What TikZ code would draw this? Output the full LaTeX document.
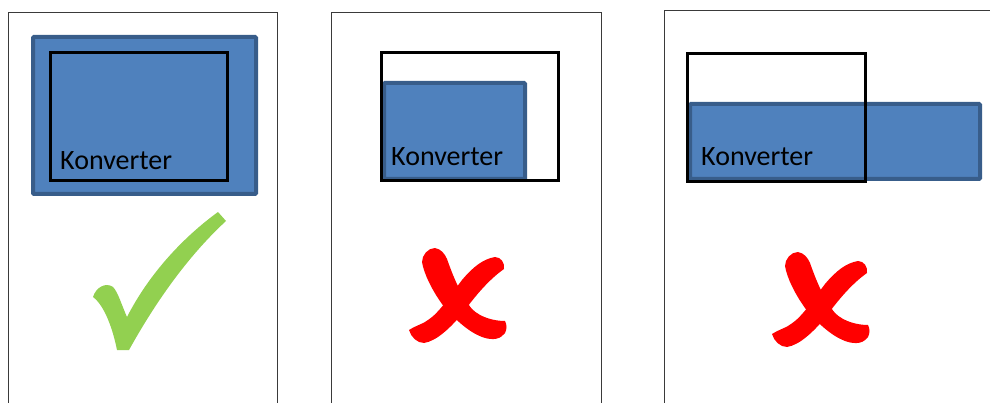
\documentclass[tikz,border=0pt]{standalone}
\usepackage{fontspec}
\setmainfont{Carlito}
\usepackage{tikz}
\usetikzlibrary{calc,positioning}
\definecolor{KonvBlue}{HTML}{4F81BD}
\definecolor{KonvEdge}{HTML}{385D8A}
\definecolor{OkGreen}{HTML}{92D050}
\definecolor{NoRed}{HTML}{FF0000}
\definecolor{FrameGray}{HTML}{3A3A3A}
\tikzset{
  frame line/.style={FrameGray,line width=0.9pt},
  konv box/.style={draw=KonvEdge,fill=KonvBlue,line width=4pt,rounded corners=1pt},
  space box/.style={draw=black,line width=3pt},
  konv text/.style={anchor=base west,inner sep=0pt,text=black,
    font=\fontsize{28}{30}\selectfont},
  kreuz/.pic={
    \fill[NoRed] (-22,-58) .. controls (-16,-57) and (-12,-52) .. (-10,-47)
      .. controls (-4,-30) and (4,-10) .. (15,3)
      .. controls (24,12) and (38,15) .. (48,15)
      .. controls (50,19) and (50,23) .. (48,27)
      .. controls (44,33) and (36,35) .. (25,31)
      .. controls (12,26) and (-2,14) .. (-15,-2)
      .. controls (-25,-16) and (-33,-32) .. (-35,-44)
      .. controls (-35,-51) and (-29,-58) .. (-22,-58) -- cycle;
    \fill[NoRed] (38,-49) .. controls (44,-49) and (48,-43) .. (47,-37)
      .. controls (30,-25) and (16,-7) .. (5,8)
      .. controls (-6,21) and (-20,35) .. (-33,37)
      .. controls (-40,37) and (-46,31) .. (-48,24)
      .. controls (-40,19) and (-34,18) .. (-29,14)
      .. controls (-18,7) and (-7,-10) .. (5,-26)
      .. controls (16,-39) and (26,-47) .. (38,-49) -- cycle;
  }
}

\begin{document}
\begin{tikzpicture}[x=1pt,y=-1pt]
  \useasboundingbox (0,0) rectangle (990,403);

  % panel frames
  \draw[frame line] (8,403) -- (8,12) -- (277,12) -- (277,403);
  \draw[frame line] (331,403) -- (331,12) -- (601,12) -- (601,403);
  \draw[frame line] (664,403) -- (664,10) -- (990,10);

  % panel 1
  \node[konv box,anchor=north west,minimum width=223pt,minimum height=157pt]
    (blau1) at (31,35) {};
  \node[space box,anchor=north west,minimum width=177pt,minimum height=128pt]
    (raum1) at (49,51) {};
  \node[konv text] (text1) at (60,170) {Konverter};

  \fill[OkGreen] (93,297) .. controls (96,287) and (106,282) .. (113,287)
    .. controls (118,292) and (122,306) .. (127,317)
    .. controls (150,272) and (185,236) .. (218,212)
    -- (226,221) .. controls (186,258) and (154,305) .. (129,350)
    -- (117,350) .. controls (113,330) and (105,306) .. (93,297) -- cycle;

  % panel 2
  \node[konv box,anchor=north west,minimum width=141pt,minimum height=96pt]
    (blau2) at (382,81) {};
  \node[space box,anchor=north west,minimum width=177pt,minimum height=128pt]
    (raum2) at (380,51) {};
  \node[konv text] (text2) at (391,166) {Konverter};
  \pic at (457,306) {kreuz};

  % panel 3
  \node[konv box,anchor=north west,minimum width=290pt,minimum height=75pt]
    (blau3) at (688,102) {};
  \node[space box,anchor=north west,minimum width=178pt,minimum height=128pt]
    (raum3) at (686,52) {};
  \node[konv text] (text3) at (701,166) {Konverter};
  \pic at (820,310) {kreuz};

\end{tikzpicture}
\end{document}
